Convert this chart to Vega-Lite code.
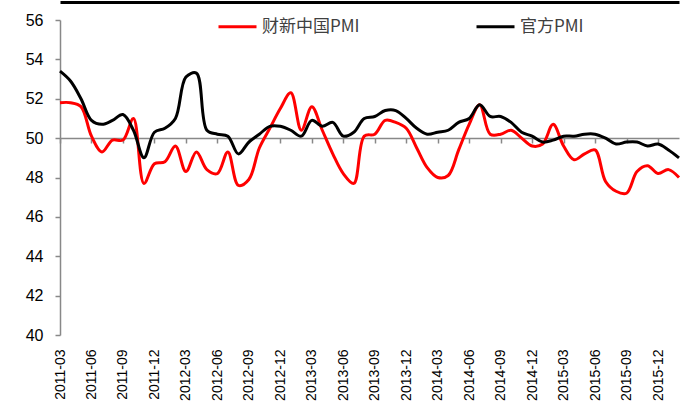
{
  "$schema": "https://vega.github.io/schema/vega-lite/v6.json",
  "width": 619,
  "height": 315,
  "autosize": {"type": "none"},
  "padding": {"left": 60, "top": 20, "right": 2, "bottom": 75},
  "background": "white",
  "config": {
    "view": {"stroke": null},
    "font": "Liberation Sans",
    "axis": {"grid": false, "zindex": 0},
    "axisY": {"labelOverlap": false, "labelFlush": false}
  },
  "data": {
    "values": [
      {"month": "2011-03", "财新中国PMI": 51.8, "官方PMI": 53.4},
      {"month": "2011-04", "财新中国PMI": 51.8, "官方PMI": 52.9},
      {"month": "2011-05", "财新中国PMI": 51.6, "官方PMI": 52.0},
      {"month": "2011-06", "财新中国PMI": 50.1, "官方PMI": 50.9},
      {"month": "2011-07", "财新中国PMI": 49.3, "官方PMI": 50.7},
      {"month": "2011-08", "财新中国PMI": 49.9, "官方PMI": 50.9},
      {"month": "2011-09", "财新中国PMI": 49.9, "官方PMI": 51.2},
      {"month": "2011-10", "财新中国PMI": 51.0, "官方PMI": 50.4},
      {"month": "2011-11", "财新中国PMI": 47.7, "官方PMI": 49.0},
      {"month": "2011-12", "财新中国PMI": 48.7, "官方PMI": 50.3},
      {"month": "2012-01", "财新中国PMI": 48.8, "官方PMI": 50.5},
      {"month": "2012-02", "财新中国PMI": 49.6, "官方PMI": 51.0},
      {"month": "2012-03", "财新中国PMI": 48.3, "官方PMI": 53.1},
      {"month": "2012-04", "财新中国PMI": 49.3, "官方PMI": 53.3},
      {"month": "2012-05", "财新中国PMI": 48.4, "官方PMI": 50.4},
      {"month": "2012-06", "财新中国PMI": 48.2, "官方PMI": 50.2},
      {"month": "2012-07", "财新中国PMI": 49.3, "官方PMI": 50.1},
      {"month": "2012-08", "财新中国PMI": 47.6, "官方PMI": 49.2},
      {"month": "2012-09", "财新中国PMI": 47.9, "官方PMI": 49.8},
      {"month": "2012-10", "财新中国PMI": 49.5, "官方PMI": 50.2},
      {"month": "2012-11", "财新中国PMI": 50.5, "官方PMI": 50.6},
      {"month": "2012-12", "财新中国PMI": 51.5, "官方PMI": 50.6},
      {"month": "2013-01", "财新中国PMI": 52.3, "官方PMI": 50.4},
      {"month": "2013-02", "财新中国PMI": 50.4, "官方PMI": 50.1},
      {"month": "2013-03", "财新中国PMI": 51.6, "官方PMI": 50.9},
      {"month": "2013-04", "财新中国PMI": 50.4, "官方PMI": 50.6},
      {"month": "2013-05", "财新中国PMI": 49.2, "官方PMI": 50.8},
      {"month": "2013-06", "财新中国PMI": 48.2, "官方PMI": 50.1},
      {"month": "2013-07", "财新中国PMI": 47.7, "官方PMI": 50.3},
      {"month": "2013-08", "财新中国PMI": 50.1, "官方PMI": 51.0},
      {"month": "2013-09", "财新中国PMI": 50.2, "官方PMI": 51.1},
      {"month": "2013-10", "财新中国PMI": 50.9, "官方PMI": 51.4},
      {"month": "2013-11", "财新中国PMI": 50.8, "官方PMI": 51.4},
      {"month": "2013-12", "财新中国PMI": 50.5, "官方PMI": 51.0},
      {"month": "2014-01", "财新中国PMI": 49.5, "官方PMI": 50.5},
      {"month": "2014-02", "财新中国PMI": 48.5, "官方PMI": 50.2},
      {"month": "2014-03", "财新中国PMI": 48.0, "官方PMI": 50.3},
      {"month": "2014-04", "财新中国PMI": 48.1, "官方PMI": 50.4},
      {"month": "2014-05", "财新中国PMI": 49.4, "官方PMI": 50.8},
      {"month": "2014-06", "财新中国PMI": 50.7, "官方PMI": 51.0},
      {"month": "2014-07", "财新中国PMI": 51.7, "官方PMI": 51.7},
      {"month": "2014-08", "财新中国PMI": 50.2, "官方PMI": 51.1},
      {"month": "2014-09", "财新中国PMI": 50.2, "官方PMI": 51.1},
      {"month": "2014-10", "财新中国PMI": 50.4, "官方PMI": 50.8},
      {"month": "2014-11", "财新中国PMI": 50.0, "官方PMI": 50.3},
      {"month": "2014-12", "财新中国PMI": 49.6, "官方PMI": 50.1},
      {"month": "2015-01", "财新中国PMI": 49.7, "官方PMI": 49.8},
      {"month": "2015-02", "财新中国PMI": 50.7, "官方PMI": 49.9},
      {"month": "2015-03", "财新中国PMI": 49.6, "官方PMI": 50.1},
      {"month": "2015-04", "财新中国PMI": 48.9, "官方PMI": 50.1},
      {"month": "2015-05", "财新中国PMI": 49.2, "官方PMI": 50.2},
      {"month": "2015-06", "财新中国PMI": 49.4, "官方PMI": 50.2},
      {"month": "2015-07", "财新中国PMI": 47.8, "官方PMI": 50.0},
      {"month": "2015-08", "财新中国PMI": 47.3, "官方PMI": 49.7},
      {"month": "2015-09", "财新中国PMI": 47.2, "官方PMI": 49.8},
      {"month": "2015-10", "财新中国PMI": 48.3, "官方PMI": 49.8},
      {"month": "2015-11", "财新中国PMI": 48.6, "官方PMI": 49.6},
      {"month": "2015-12", "财新中国PMI": 48.2, "官方PMI": 49.7},
      {"month": "2016-01", "财新中国PMI": 48.4, "官方PMI": 49.4},
      {"month": "2016-02", "财新中国PMI": 48.0, "官方PMI": 49.0}
    ]
  },
  "transform": [
    {"fold": ["财新中国PMI", "官方PMI"], "as": ["series", "value"]}
  ],
  "encoding": {
    "y": {
      "field": "value", "type": "quantitative",
      "scale": {"domain": [40, 56], "nice": false, "zero": false},
      "axis": {
        "title": null, "values": [40, 42, 44, 46, 48, 50, 52, 54, 56],
        "labelFontSize": 16, "labelColor": "#000000", "labelPadding": 12,
        "labelOverlap": false, "labelFlush": false,
        "domainColor": "#888888", "domainWidth": 1.5,
        "tickColor": "#888888", "tickSize": 5, "tickWidth": 1.5
      }
    }
  },
  "resolve": {"axis": {"x": "independent"}},
  "layer": [
    {
      "mark": {"type": "point", "opacity": 0},
      "encoding": {
        "x": {
          "field": "month", "type": "ordinal",
          "scale": {"type": "point", "padding": 0},
          "axis": {
            "orient": "bottom", "offset": -197, "title": null, "zindex": 0,
            "values": ["2011-03","2011-06","2011-09","2011-12","2012-03","2012-06","2012-09","2012-12","2013-03","2013-06","2013-09","2013-12","2014-03","2014-06","2014-09","2014-12","2015-03","2015-06","2015-09","2015-12"],
            "labels": false, "domain": true, "domainColor": "#888888", "domainWidth": 1.5,
            "ticks": true, "tickColor": "#888888", "tickSize": 5, "tickWidth": 1.5
          }
        }
      }
    },
    {
      "mark": {"type": "point", "opacity": 0},
      "encoding": {
        "x": {
          "field": "month", "type": "ordinal",
          "scale": {"type": "point", "padding": 0},
          "axis": {
            "orient": "top", "offset": 18, "title": null, "labels": false, "ticks": false,
            "domain": true, "domainColor": "#000000", "domainWidth": 3
          }
        }
      }
    },
    {
      "mark": {"type": "line", "interpolate": "catmull-rom", "strokeWidth": 3},
      "encoding": {
        "x": {
          "field": "month", "type": "ordinal",
          "scale": {"type": "point", "padding": 0},
          "axis": {
            "orient": "bottom", "title": null,
            "values": ["2011-03","2011-06","2011-09","2011-12","2012-03","2012-06","2012-09","2012-12","2013-03","2013-06","2013-09","2013-12","2014-03","2014-06","2014-09","2014-12","2015-03","2015-06","2015-09","2015-12"],
            "labels": true, "labelAngle": -90, "labelFontSize": 14, "labelColor": "#000000",
            "labelPadding": 14, "domain": false, "ticks": false, "tickSize": 0,
            "labelOverlap": false
          }
        },
        "color": {
          "field": "series", "type": "nominal",
          "scale": {"domain": ["财新中国PMI", "官方PMI"], "range": ["#FF0000", "#000000"]},
          "legend": {
            "title": null, "orient": "none", "direction": "horizontal",
            "legendX": 157, "legendY": -14, "padding": 0,
            "symbolType": "stroke", "symbolSize": 1444, "symbolStrokeWidth": 3,
            "labelFont": "Noto Sans CJK SC", "labelFontSize": 17, "labelColor": "#404040",
            "labelOffset": 4, "columnPadding": 110
          }
        }
      }
    }
  ]
}
